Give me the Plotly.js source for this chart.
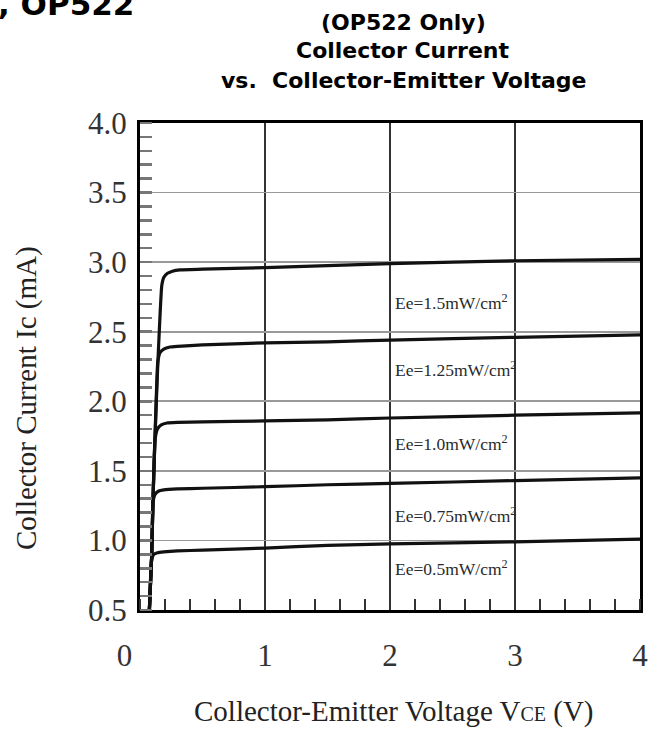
<!DOCTYPE html>
<html>
<head>
<meta charset="utf-8">
<script src="https://cdn.plot.ly/plotly-3.0.1.min.js"></script>
<style>html,body{margin:0;padding:0;background:#fff;}#chart{width:661px;height:732px;}</style>
</head>
<body>
<div id="chart"></div>
<script>
// Collector current Ic (mA) vs collector-emitter voltage VCE (V)
const seriesNames = ["Ee=0.5mW/cm<sup>2</sup>", "Ee=0.75mW/cm<sup>2</sup>", "Ee=1.0mW/cm<sup>2</sup>", "Ee=1.25mW/cm<sup>2</sup>", "Ee=1.5mW/cm<sup>2</sup>"];
const vce050 = [0.075, 0.093, 0.11, 0.14, 0.19, 0.3, 0.5, 1, 1.5, 2, 3, 4];
const ic050  = [0.5, 0.86, 0.9, 0.912, 0.918, 0.925, 0.93, 0.945, 0.965, 0.975, 0.99, 1.01];
const vce075 = [0.075, 0.093, 0.104, 0.12, 0.15, 0.19, 0.3, 0.5, 1, 1.5, 2, 3, 4];
const ic075  = [0.5, 0.88, 1.27, 1.33, 1.355, 1.363, 1.37, 1.375, 1.386, 1.40, 1.41, 1.43, 1.45];
const vce100 = [0.075, 0.093, 0.104, 0.12, 0.14, 0.17, 0.216, 0.3, 0.5, 1, 1.5, 2, 3, 4];
const ic100  = [0.5, 0.88, 1.29, 1.72, 1.80, 1.83, 1.844, 1.848, 1.852, 1.859, 1.866, 1.88, 1.90, 1.916];
const vce125 = [0.075, 0.093, 0.104, 0.12, 0.142, 0.16, 0.19, 0.24, 0.3, 0.5, 1, 1.5, 2, 3, 4];
const ic125  = [0.5, 0.88, 1.29, 1.74, 2.28, 2.35, 2.375, 2.39, 2.395, 2.405, 2.42, 2.427, 2.44, 2.46, 2.477];
const vce150 = [0.075, 0.093, 0.104, 0.12, 0.144, 0.174, 0.19, 0.22, 0.26, 0.32, 0.5, 1, 1.5, 2, 3, 4];
const ic150  = [0.5, 0.88, 1.29, 1.74, 2.30, 2.83, 2.89, 2.92, 2.935, 2.944, 2.95, 2.96, 2.975, 2.99, 3.01, 3.02];
// label anchor positions (data units)
const labelV = [2.02, 2.02, 2.02, 2.02, 2.02];
const labelI = [0.80, 1.18, 1.70, 2.23, 2.71];
// axis ticks
const xTickVals = [0, 1, 2, 3, 4];
const xTickText = ["0\u00a0\u00a0\u00a0\u00a0", "1", "2", "3", "4"];
const yTickVals = [0.5, 1.0, 1.5, 2.0, 2.5, 3.0, 3.5, 4.0];
const yTickText = ["0.5", "1.0", "1.5", "2.0", "2.5", "3.0", "3.5", "4.0"];

const xs = [vce050, vce075, vce100, vce125, vce150];
const ys = [ic050, ic075, ic100, ic125, ic150];

const traces = xs.map((x, i) => ({
  x: x, y: ys[i], type: 'scatter', mode: 'lines', name: seriesNames[i],
  line: {color: '#111', width: 3.2, shape: 'spline', smoothing: 0.4},
  hoverinfo: 'skip'
}));

const serif = '"Liberation Serif", "Times New Roman", serif';
const sans = '"DejaVu Sans", Arial, sans-serif';
const W = 500, H = 487, L = 140, T = 123;
const px = v => (v - L) / W;
const py = v => (T + H - v) / H;

const annotations = seriesNames.map((t, i) => ({
  x: labelV[i], y: labelI[i], xref: 'x', yref: 'y', text: t, showarrow: false,
  xanchor: 'left', yanchor: 'middle', font: {family: serif, size: 17.5, color: '#2a2a2a'}
}));
annotations.push(
  {x: px(403), y: py(22), xref: 'paper', yref: 'paper', text: '(OP522 Only)', showarrow: false,
   xanchor: 'center', yanchor: 'middle', font: {family: sans, size: 22, color: '#000', weight: 'bold'}},
  {x: px(403), y: py(50), xref: 'paper', yref: 'paper', text: 'Collector Current', showarrow: false,
   xanchor: 'center', yanchor: 'middle', font: {family: sans, size: 22, color: '#000', weight: 'bold'}},
  {x: px(404), y: py(81), xref: 'paper', yref: 'paper', text: 'vs.\u00a0 Collector-Emitter Voltage', showarrow: false,
   xanchor: 'center', yanchor: 'middle', font: {family: sans, size: 22, color: '#000', weight: 'bold'}},
  {x: px(-4), y: py(4), xref: 'paper', yref: 'paper', text: ', OP522', showarrow: false,
   xanchor: 'left', yanchor: 'middle', font: {family: sans, size: 31, color: '#000', weight: 'bold'}},
  {x: px(394), y: py(711), xref: 'paper', yref: 'paper',
   text: 'Collector-Emitter Voltage V<span style="font-size:20px">CE</span> (V)', showarrow: false,
   xanchor: 'center', yanchor: 'middle', font: {family: serif, size: 29, color: '#222'}},
  {x: px(26), y: py(398), xref: 'paper', yref: 'paper', text: 'Collector Current Ic (mA)', showarrow: false,
   textangle: -90, xanchor: 'center', yanchor: 'middle', font: {family: serif, size: 29, color: '#222'}}
);

const layout = {
  width: 661, height: 732,
  margin: {l: L, r: 661 - L - W, t: T, b: 732 - T - H, pad: 0},
  paper_bgcolor: '#fff', plot_bgcolor: '#fff',
  showlegend: false,
  xaxis: {
    range: [0, 4], tickmode: 'array', tickvals: xTickVals, ticktext: xTickText,
    ticks: '', showgrid: true, gridcolor: '#333', gridwidth: 1.2,
    showline: true, linecolor: '#000', linewidth: 3, mirror: true, zeroline: false,
    tickfont: {family: serif, size: 31, color: '#333'}, ticklabelstandoff: 16,
    minor: {dtick: 0.2, tick0: 0, ticks: 'inside', ticklen: 11, tickwidth: 1.5, tickcolor: '#333', showgrid: false}
  },
  yaxis: {
    range: [0.5, 4.0], tickmode: 'array', tickvals: yTickVals, ticktext: yTickText,
    ticks: '', showgrid: true, gridcolor: '#999', gridwidth: 1.6,
    showline: true, linecolor: '#000', linewidth: 3, mirror: true, zeroline: false,
    tickfont: {family: serif, size: 31, color: '#333'}, ticklabelstandoff: 4,
    minor: {dtick: 0.1, tick0: 0.5, ticks: 'inside', ticklen: 12, tickwidth: 2.5, tickcolor: '#777', showgrid: false}
  },
  annotations: annotations
};

Plotly.newPlot('chart', traces, layout, {staticPlot: true, displayModeBar: false});
</script>
</body>
</html>
